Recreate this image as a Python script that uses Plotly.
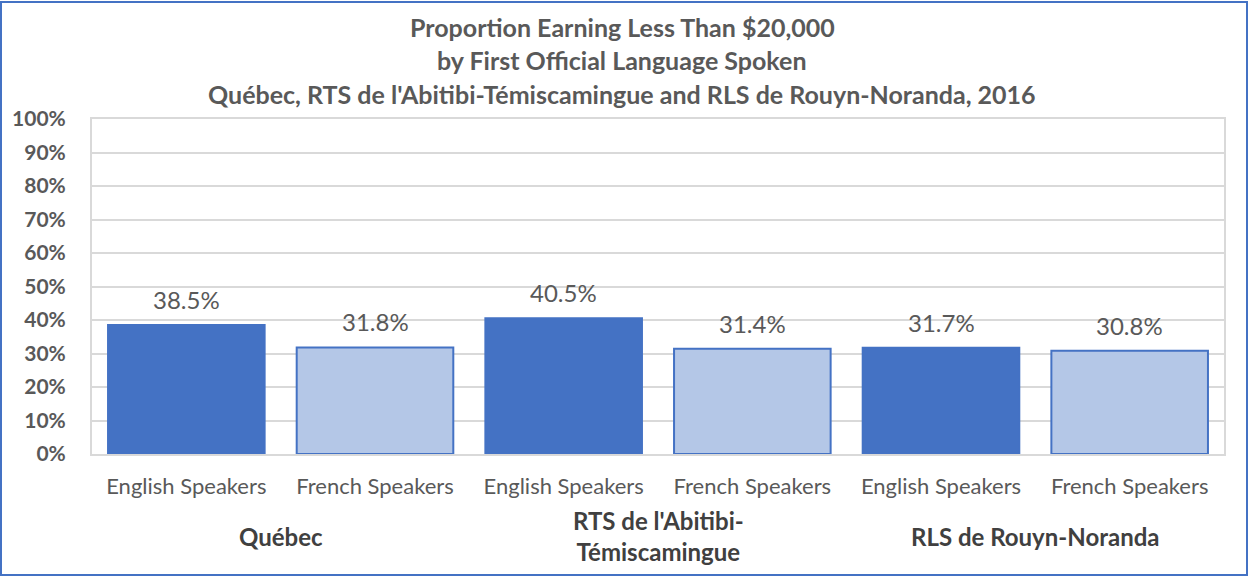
import plotly.graph_objects as go

title_lines = ["Proportion Earning Less Than $20,000",
               "by First Official Language Spoken",
               "Québec, RTS de l'Abitibi-Témiscamingue and RLS de Rouyn-Noranda, 2016"]
regions = ["Québec", "RTS de l'Abitibi-<br>Témiscamingue", "RLS de Rouyn-Noranda"]
languages = ["English Speakers", "French Speakers"]
values = [38.5, 31.8, 40.5, 31.4, 31.7, 30.8]  # percent, order: region x language
y_ticks = list(range(0, 101, 10))

dark = "#4472C4"
light = "#B4C7E7"
gray = "#595959"
font_family = "Lato, 'Open Sans', sans-serif"

n = len(values)
xs = list(range(n))
tick_text = [languages[i % 2] for i in xs]
colors = [dark if i % 2 == 0 else light for i in xs]

W, H = 1249, 577
L, R, T, B = 92, 25, 119, 123
pw, ph = W - L - R, H - T - B

fig = go.Figure()
fig.add_trace(go.Bar(
    x=xs, y=values,
    marker=dict(color=colors, line=dict(color=dark, width=2)),
    hoverinfo="skip",
))

# value labels
for x, v in zip(xs, values):
    fig.add_annotation(x=x, y=v, xref="x", yref="y", text=f"{v:.1f}%",
                       showarrow=False, yanchor="bottom", yshift=9,
                       font=dict(size=24, color=gray, family=font_family))

# group labels
for gi, g in enumerate(regions):
    fig.add_annotation(x=gi * 2 + 0.5, y=-(536 - (H - B)) / ph, xref="x", yref="paper",
                       text=f"<b>{g}</b>", showarrow=False, yanchor="middle",
                       font=dict(size=24, color="#404040", family=font_family))

# title lines
title_centers = [27, 60, 94]
for line, cy in zip(title_lines, title_centers):
    fig.add_annotation(x=(622 - L) / pw, y=((H - B) - cy) / ph, xref="paper", yref="paper",
                       text=f"<b>{line}</b>", showarrow=False, yanchor="middle", xanchor="center",
                       font=dict(size=25, color=gray, family=font_family))

fig.add_shape(type="rect", xref="paper", yref="paper",
              x0=(1 - L) / pw, x1=(W - 2 - L) / pw,
              y0=-(B - 2) / ph, y1=(H - 2 - B) / ph,
              line=dict(color="#4472C4", width=2), fillcolor="rgba(0,0,0,0)", layer="below")

fig.update_layout(
    width=W, height=H,
    margin=dict(l=L, r=R, t=T, b=B, autoexpand=False),
    paper_bgcolor="white", plot_bgcolor="white",
    bargap=0.17,
    showlegend=False,
    font=dict(family=font_family, color=gray),
)
fig.update_xaxes(
    range=[-0.5, n - 0.5], tickvals=xs, ticktext=tick_text,
    tickfont=dict(size=22, color=gray, family=font_family),
    showline=True, linecolor="#d9d9d9", linewidth=2, mirror=True,
    showgrid=False, ticks="", ticklabelstandoff=12, fixedrange=True, automargin=False,
)
fig.update_yaxes(
    range=[0, 100], tickvals=y_ticks, ticktext=[f"<b>{t}%</b>" for t in y_ticks],
    tickfont=dict(size=21, color=gray, family=font_family),
    showgrid=True, gridcolor="#d9d9d9", gridwidth=2,
    showline=True, linecolor="#d9d9d9", linewidth=2, mirror=True,
    zeroline=False, ticks="", ticklabelstandoff=20, automargin=False, fixedrange=True,
)

fig.write_html("out.html",
               config={"displayModeBar": False, "staticPlot": True},
               post_script="document.body.style.margin='0px';document.body.style.overflow='hidden';")
